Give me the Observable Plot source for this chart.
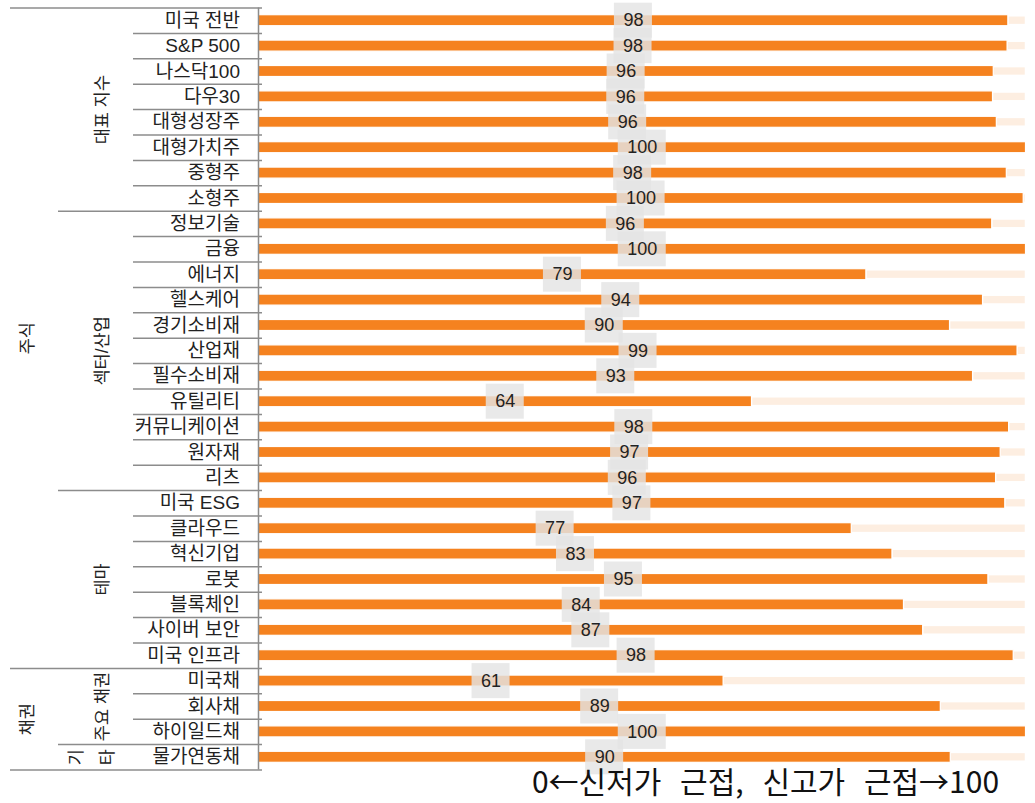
<!DOCTYPE html>
<html><head><meta charset="utf-8">
<script src="https://cdn.jsdelivr.net/npm/d3@7"></script>
<script src="https://cdn.jsdelivr.net/npm/@observablehq/plot@0.6"></script>
<style>body{margin:0;background:#fff}</style>
</head><body><div id="chart"></div>
<script>
const categories = ["미국 전반","S&P 500","나스닥100","다우30","대형성장주","대형가치주","중형주","소형주",
  "정보기술","금융","에너지","헬스케어","경기소비재","산업재","필수소비재","유틸리티","커뮤니케이션","원자재","리츠",
  "미국 ESG","클라우드","혁신기업","로봇","블록체인","사이버 보안","미국 인프라",
  "미국채","회사채","하이일드채","물가연동채"];
const values = [97.7, 97.6, 95.8, 95.7, 96.2, 100, 97.5, 99.7,
  95.6, 100, 79.2, 94.4, 90.1, 98.9, 93.1, 64.3, 97.8, 96.7, 96.1,
  97.3, 77.3, 82.6, 95.1, 84.1, 86.6, 98.4,
  60.6, 88.9, 100, 90.2];
const level1Labels = ["주식", "채권"];
const level1Counts = [26, 4];
const level2Labels = ["대표 지수", "섹터/산업", "테마", "주요 채권", "기타"];
const level2Counts = [8, 11, 7, 3, 1];
const caption = "0←신저가 근접, 신고가 근접→100";
const fullScale = 100;

const rows = categories.map((name, i) => ({name, value: values[i], label: Math.round(values[i])}));

function groupsOf(labels, counts) {
  let start = 0;
  return labels.map((label, k) => { const g = {label, start, count: counts[k]}; start += counts[k]; return g; });
}
const g1 = groupsOf(level1Labels, level1Counts);
const g2 = groupsOf(level2Labels, level2Counts);
const end1 = new Set(g1.map(g => g.start + g.count - 1));
const end2 = new Set(g2.map(g => g.start + g.count - 1));
const sepRows = rows.slice(0, -1).map((r, i) => ({name: r.name, level: end1.has(i) ? 1 : end2.has(i) ? 2 : 3}));

const W = 1035, H = 803, mL = 258, mR = 9.5, mT = 7.5, mB = 33.5;
const step = (H - mT - mB) / categories.length;
const frameRight = W - mR;
const lineRight = 262;
const ins = x => ({insetLeft: -(mL - x), insetRight: frameRight - lineRight});
const lineStyle = {stroke: "#8c8c8c", strokeWidth: 1.5};
const FONT = "'Liberation Sans','Noto Sans CJK KR',sans-serif";
const CJK = "'Noto Sans CJK KR',sans-serif";

function groupLabelMarks(groups, xPos, fontSize) {
  return groups.map(g => {
    const mid = g.start + Math.floor(g.count / 2);
    const dy = g.count % 2 === 0 ? -step / 2 : 0;
    const wrap = g.count === 1;
    const text = wrap ? Array.from(g.label).join("\n") : g.label;
    return Plot.text([g], {
      y: () => categories[mid], text: () => text, frameAnchor: "left", textAnchor: "middle",
      dx: xPos - mL - (wrap ? 15 : 0), dy, rotate: -90, fontSize,
      lineHeight: wrap ? 1.75 : 1, fill: "#222", fontFamily: FONT
    });
  });
}

const chart = Plot.plot({
  width: W, height: H,
  marginLeft: mL, marginRight: mR, marginTop: mT, marginBottom: mB,
  x: {domain: [0, fullScale], axis: null},
  y: {type: "band", domain: categories, axis: null, padding: 0, round: false},
  style: {fontFamily: FONT, background: "#fff", color: "#222"},
  marks: [
    Plot.barX(rows.filter(d => d.value < fullScale), {x1: "value", x2: () => fullScale, y: "name", fill: "#fdeee1", stroke: "#fff", strokeWidth: 1.5, insetTop: 8.3, insetBottom: 8.3}),
    Plot.barX(rows, {x1: () => 0, x2: "value", y: "name", fill: "#f5821f", stroke: "#fff", strokeWidth: 1.2, insetTop: 7.2, insetBottom: 7.2}),
    Plot.barX(rows.filter(d => d.label < 100), {x1: d => d.value / 2, x2: d => d.value / 2, y: "name", fill: "#e4e4e4", fillOpacity: 0.82, insetLeft: -19, insetRight: -19, insetTop: -4.8, insetBottom: -4.8}),
    Plot.barX(rows.filter(d => d.label >= 100), {x1: d => d.value / 2, x2: d => d.value / 2, y: "name", fill: "#e4e4e4", fillOpacity: 0.82, insetLeft: -24, insetRight: -24, insetTop: -4.8, insetBottom: -4.8}),
    Plot.text(rows, {x: d => d.value / 2, y: "name", text: "label", fontSize: 18, fill: "#222"}),
    Plot.ruleY(sepRows.filter(d => d.level === 3), {y: "name", dy: step / 2, ...ins(133), ...lineStyle}),
    Plot.ruleY(sepRows.filter(d => d.level === 2), {y: "name", dy: step / 2, ...ins(58), ...lineStyle}),
    Plot.ruleY(sepRows.filter(d => d.level === 1), {y: "name", dy: step / 2, ...ins(10), ...lineStyle}),
    Plot.ruleY([categories[0]], {dy: -step / 2, ...ins(10), ...lineStyle}),
    Plot.ruleY([categories[categories.length - 1]], {dy: step / 2, ...ins(10), ...lineStyle}),
    Plot.ruleX([0], {...lineStyle}),
    Plot.text(rows, {y: "name", text: "name", frameAnchor: "left", dx: -18.5, textAnchor: "end", fontSize: 19, fill: "#222"}),
    ...groupLabelMarks(g2, 102, 17.5),
    ...groupLabelMarks(g1, 27, 17.5),
    Plot.text([caption], {text: d => d, frameAnchor: "bottom", dx: 765 - (mL + frameRight) / 2, dy: 22.5, fontSize: 30, fill: "#111", fontFamily: CJK})
  ]
});
d3.select(chart).selectAll("text").filter(function() { return this.textContent === caption; }).style("word-spacing", "12px");
document.getElementById("chart").appendChild(chart);
</script>
</body></html>
